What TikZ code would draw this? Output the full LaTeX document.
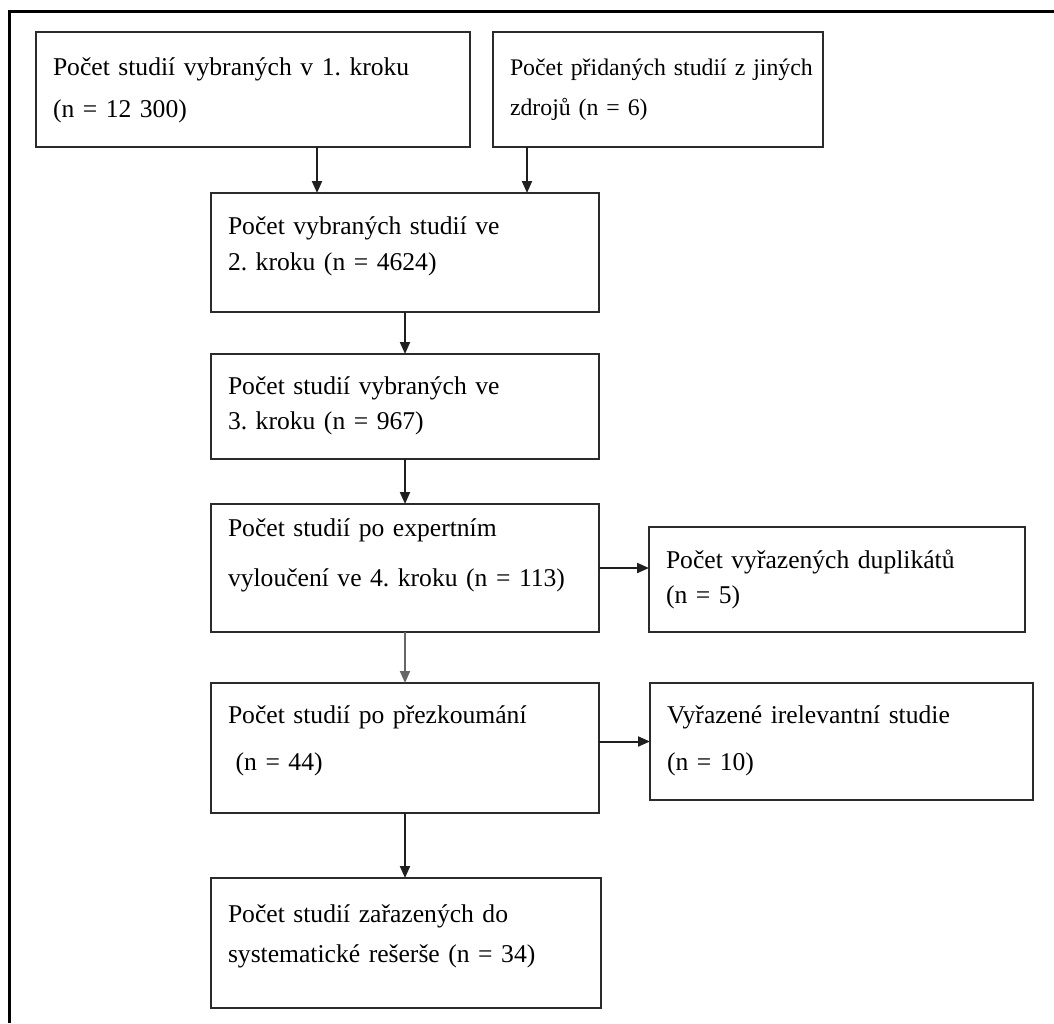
\documentclass[tikz,border=0pt]{standalone}
\usepackage{fontspec}
\setmainfont[WordSpace=0.85]{Liberation Serif}
\usetikzlibrary{arrows.meta}
\newlength{\pxu}
\setlength{\pxu}{0.5pt}
\definecolor{boxgray}{HTML}{2B2B2B}
\tikzset{>={Triangle[length=6pt,width=5pt]}}
\tikzset{
  stepbox/.style={draw=boxgray, line width=2\pxu, outer sep=0pt, anchor=north west,
    align=left, inner xsep=17\pxu, inner ysep=0pt, text height=40\pxu, text=black},
  lead/.style={font=\fontsize{12.8}{#1}\selectfont\frenchspacing},
  flow/.style={->, line width=2\pxu, black!88},
}

\begin{document}
\begin{tikzpicture}[x=0.5pt, y=-0.5pt]
  \useasboundingbox (0,0) rectangle (1054,1023);
  % frame
  \draw [line width=3\pxu] (1054,11) -- (9,11) -- (9,1023);

  % boxes
  \node [stepbox, lead=21pt, text width=400\pxu, text height=43\pxu, text depth=72\pxu] (src1) at (36,32)
    {Počet studií vybraných v 1. kroku\\(n = 12 300)};
  \node [stepbox, font=\fontsize{11.9}{20pt}\selectfont\frenchspacing, text width=296\pxu,
    text height=43\pxu, text depth=72\pxu] (src2) at (493,32)
    {\mbox{Počet přidaných studií z jiných}\\zdrojů (n = 6)};
  \node [stepbox, lead=18pt, text width=354\pxu, text height=41\pxu, text depth=78\pxu] (step2) at (211,193)
    {Počet vybraných studií ve\\2. kroku (n = 4624)};
  \node [stepbox, lead=17.5pt, text width=354\pxu, text depth=65\pxu] (step3) at (211,354)
    {Počet studií vybraných ve\\3. kroku (n = 967)};
  \node [stepbox, lead=25pt, text width=354\pxu, text height=32\pxu, text depth=96\pxu] (expert) at (211,504)
    {Počet studií po expertním\\vyloučení ve 4. kroku (n = 113)};
  \node [stepbox, lead=17.5pt, text width=342\pxu, text height=41\pxu, text depth=64\pxu] (dup) at (649,527)
    {Počet vyřazených duplikátů\\(n = 5)};
  \node [stepbox, lead=23.5pt, text width=354\pxu, text depth=90\pxu] (prezk) at (211,683)
    {Počet studií po přezkoumání\\\hspace*{0.3em}(n = 44)};
  \node [stepbox, lead=23.5pt, text width=349\pxu, text depth=77\pxu] (irrel) at (650,683)
    {Vyřazené irelevantní studie\\(n = 10)};
  \node [stepbox, lead=20pt, text width=356\pxu, text height=44\pxu, text depth=86\pxu] (final) at (211,878)
    {Počet studií zařazených do\\systematické rešerše (n = 34)};

  % arrow lanes
  \coordinate (laneA) at (317,0);
  \coordinate (laneB) at (527,0);

  % arrows
  \draw [flow] (src1.south -| laneA) -- (step2.north -| laneA);
  \draw [flow] (src2.south -| laneB) -- (step2.north -| laneB);
  \draw [flow] (step2.south) -- (step2.south |- step3.north);
  \draw [flow] (step3.south) -- (step3.south |- expert.north);
  \draw [flow] (expert.east) -- (expert.east -| dup.west);
  \draw [flow, black!60] (expert.south) -- (expert.south |- prezk.north);
  \draw [flow] (irrel.west -| prezk.east) -- (irrel.west);
  \draw [flow] (prezk.south) -- (prezk.south |- final.north);
\end{tikzpicture}
\end{document}
